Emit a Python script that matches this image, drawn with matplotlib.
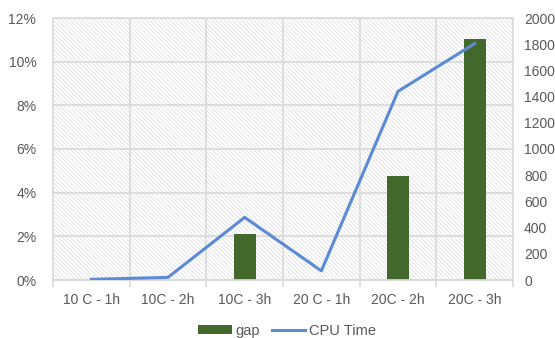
import numpy as np
import matplotlib
matplotlib.use('Agg')
import matplotlib.pyplot as plt
from matplotlib.ticker import FuncFormatter
from matplotlib.patches import Rectangle, Patch
from matplotlib.lines import Line2D

# Daten
categories = ["10 C - 1h", "10C - 2h", "10C - 3h", "20 C - 1h", "20C - 2h", "20C - 3h"]
gap = [0.0, 0.0, 0.021, 0.0, 0.0478, 0.1103]
cpu_time = [5, 20, 478, 70, 1440, 1805]

bar_color = "#43682B"
line_color = "#5B8AD6"
grid_color = "#D9D9D9"
text_color = "#595959"

plt.rcParams['font.family'] = ['Liberation Sans', 'DejaVu Sans']
plt.rcParams['hatch.linewidth'] = 0.5
plt.rcParams['hatch.color'] = "#DADADA"

fig = plt.figure(figsize=(5.55, 3.38), dpi=100)
ax = fig.add_axes([53 / 555, 1 - 280 / 338, 460 / 555, 262 / 338])
ax2 = ax.twinx()

x = np.arange(len(categories))

# schraffierter Hintergrund
ax.add_patch(Rectangle((0, 0), 1, 1, transform=ax.transAxes, facecolor="white",
                       edgecolor="#DADADA", hatch="\\" * 8, linewidth=0, zorder=0))

ax.bar(x, gap, width=0.29, color=bar_color, zorder=3)
ax.set_xlim(-0.5, len(categories) - 0.5)
ax.set_ylim(0, 0.12)
ax.set_yticks(np.arange(0, 0.121, 0.02))
ax.yaxis.set_major_formatter(FuncFormatter(lambda v, p: f"{v * 100:.0f}%"))

for yv in np.arange(0.02, 0.121, 0.02):
    ax.axhline(yv, color=grid_color, linewidth=1.2, zorder=1)
for xv in np.arange(0.5, len(categories) - 0.5, 1):
    ax.axvline(xv, color=grid_color, linewidth=1.2, zorder=1)

ax.set_xticks(x)
ax.set_xticklabels(categories)
ax.set_xticks(np.arange(-0.5, len(categories), 1), minor=True)
ax.tick_params(axis='x', which='major', length=0, pad=9, labelsize=10, colors=text_color)
ax.tick_params(axis='x', which='minor', length=5, color=grid_color, width=1.2)
ax.tick_params(axis='y', length=0, pad=12, labelsize=10, colors=text_color)

for side in ["top", "left", "right"]:
    ax.spines[side].set_visible(False)
ax.spines["bottom"].set_color(grid_color)
ax.spines["bottom"].set_linewidth(1.2)

ax2.plot(x, cpu_time, color=line_color, linewidth=2.2, zorder=4)
ax2.set_ylim(0, 2000)
ax2.set_yticks(np.arange(0, 2001, 200))
ax2.tick_params(axis='y', length=0, pad=8, labelsize=10, colors=text_color)
for side in ["top", "left", "right", "bottom"]:
    ax2.spines[side].set_visible(False)

# Rahmen des Plotbereichs
ax.add_patch(Rectangle((0, 0), 1, 1, transform=ax.transAxes, fill=False,
                       edgecolor=grid_color, linewidth=1.2, zorder=5, clip_on=False))

handles = [Patch(facecolor=bar_color, label="gap"),
           Line2D([0], [0], color=line_color, linewidth=2.2, label="CPU Time")]
fig.legend(handles=handles, loc="center", ncol=2, frameon=False,
           bbox_to_anchor=(0.517, 1 - 331 / 338), fontsize=10.5, labelcolor=text_color,
           handlelength=2.3, handleheight=0.6, columnspacing=0.8, handletextpad=0.25,
           borderpad=0)

fig.savefig("out.png", dpi=100)
